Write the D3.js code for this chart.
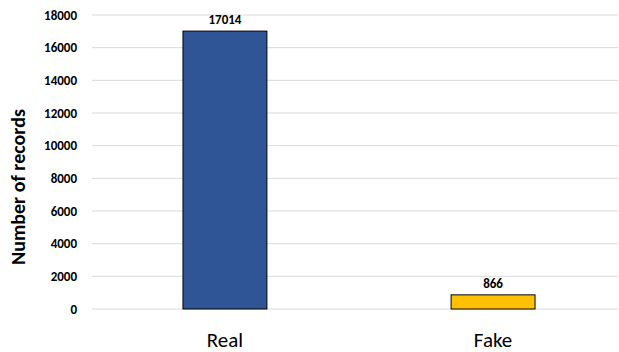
<!DOCTYPE html>
<html>
<head>
<meta charset="utf-8">
<script src="https://cdn.jsdelivr.net/npm/d3@7"></script>
<style>
  body { margin: 0; background: #fff; }
  text { font-family: Carlito, Calibri, Lato, "Open Sans", sans-serif; }
</style>
</head>
<body>
<div id="wrapper"></div>
<script>
const categories = ["Real", "Fake"];
const records = [17014, 866];
const barColors = ["#2f5597", "#ffc000"];
const yTicks = [0, 2000, 4000, 6000, 8000, 10000, 12000, 14000, 16000, 18000];

const dataset = categories.map((c, i) => ({ category: c, value: records[i], color: barColors[i] }));

const wrapper = d3
  .select("#wrapper")
  .append("svg")
  .attr("width", 619)
  .attr("height", 352);

const xScale = d3
  .scaleBand()
  .domain(categories)
  .range([91, 627])
  .paddingInner(0.687)
  .paddingOuter(0.343);

const yScale = d3
  .scaleLinear()
  .domain([0, 18000])
  .range([309, 15]);

// gridlines
wrapper
  .append("g")
  .selectAll("line")
  .data(yTicks)
  .join("line")
  .attr("x1", 92)
  .attr("x2", 618)
  .attr("y1", (d) => yScale(d))
  .attr("y2", (d) => yScale(d))
  .attr("stroke", "#d9d9d9")
  .attr("stroke-width", 1);

// y tick labels
const yAxis = wrapper
  .append("g")
  .attr("transform", "translate(77,0)")
  .call(
    d3.axisLeft(yScale).tickValues(yTicks).tickFormat(d3.format("d")).tickSize(0).tickPadding(0)
  );
yAxis.select(".domain").remove();
yAxis
  .selectAll("text")
  .attr("font-family", "Carlito, Calibri, Lato, sans-serif")
  .attr("font-size", 13)
  .attr("font-weight", "bold")
  .attr("fill", "#000");

// bars
wrapper
  .append("g")
  .selectAll("rect")
  .data(dataset)
  .join("rect")
  .attr("x", (d) => xScale(d.category))
  .attr("y", (d) => yScale(d.value))
  .attr("width", xScale.bandwidth())
  .attr("height", (d) => yScale(0) - yScale(d.value))
  .attr("fill", (d) => d.color)
  .attr("stroke", "#000")
  .attr("stroke-width", 1);

// value labels
wrapper
  .append("g")
  .selectAll("text")
  .data(dataset)
  .join("text")
  .attr("x", (d) => xScale(d.category) + xScale.bandwidth() / 2)
  .attr("y", (d) => yScale(d.value) - 7)
  .attr("text-anchor", "middle")
  .attr("font-size", 13)
  .attr("font-weight", "bold")
  .text((d) => d.value);

// category labels
wrapper
  .append("g")
  .selectAll("text")
  .data(dataset)
  .join("text")
  .attr("x", (d) => xScale(d.category) + xScale.bandwidth() / 2)
  .attr("y", 347)
  .attr("text-anchor", "middle")
  .attr("font-size", 21)
  .text((d) => d.category);

// y axis title
wrapper
  .append("text")
  .attr("transform", "translate(25,187) rotate(-90)")
  .attr("text-anchor", "middle")
  .attr("font-size", 20)
  .attr("font-weight", "bold")
  .text("Number of records");
</script>
</body>
</html>
